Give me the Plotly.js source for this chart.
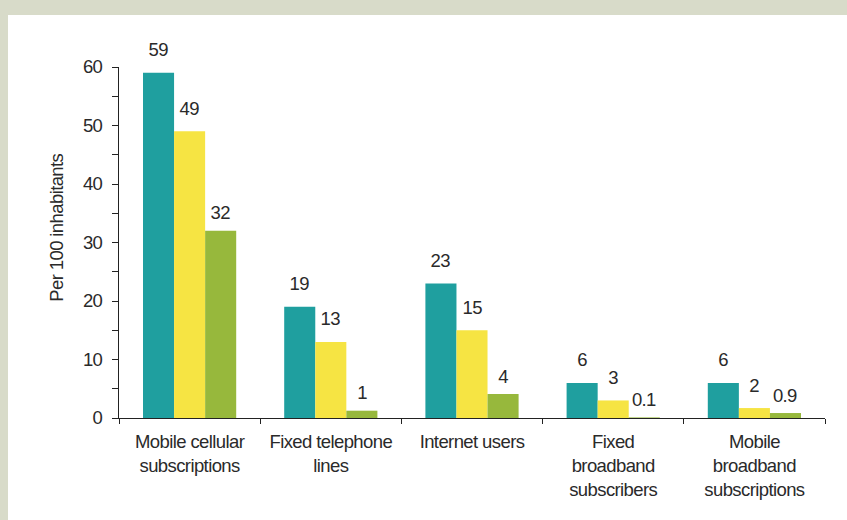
<!DOCTYPE html>
<html>
<head>
<meta charset="utf-8">
<script src="https://cdn.plot.ly/plotly-3.0.1.min.js"></script>
<style>
  html, body { margin: 0; padding: 0; background: #d8dbc9; width: 847px; height: 520px; overflow: hidden; }
  #chart { position: absolute; left: 8px; top: 15px; width: 839px; height: 505px; background: #fff; }
  #chart svg text { letter-spacing: -0.6px; }
</style>
</head>
<body>
<div id="chart"></div>
<script>
// Data
const categories = [
  "Mobile cellular<br>subscriptions",
  "Fixed telephone<br>lines",
  "Internet users",
  "Fixed<br>broadband<br>subscribers",
  "Mobile<br>broadband<br>subscriptions"
];
const seriesA = [59, 19, 23, 6, 6];          // teal
const seriesB = [49, 13, 15, 3, 1.7];        // yellow
const seriesC = [32, 1.25, 4.1, 0.1, 0.85];  // green
const labelsA = ["59", "19", "23", "6", "6"];
const labelsB = ["49", "13", "15", "3", "2"];
const labelsC = ["32", "1", "4", "0.1", "0.9"];
const yTickVals = [0, 5, 10, 15, 20, 25, 30, 35, 40, 45, 50, 55, 60];
const yTickText = ["0", "", "10", "", "20", "", "30", "", "40", "", "50", "", "60"];
const yTitle = "Per 100 inhabitants";

const FONT = "'Liberation Sans', Arial, sans-serif";
const FS = 18.5;
const TXT = "#2a2a2a";
const colors = ["#1f9f9f", "#f6e443", "#97b83c"];
const bargap = 0.34;
const barW = (1 - bargap) / 3;

const series = [seriesA, seriesB, seriesC];
const labels = [labelsA, labelsB, labelsC];

const traces = series.map((vals, j) => ({
  type: "bar",
  x: categories,
  y: vals,
  marker: { color: colors[j], line: { width: 0 } },
  hoverinfo: "none",
  showlegend: false
}));

const annotations = [];
series.forEach((vals, j) => {
  vals.forEach((v, i) => {
    annotations.push({
      x: i + (j - 1) * barW,
      y: v,
      xref: "x", yref: "y",
      text: labels[j][i],
      showarrow: false,
      yanchor: "middle",
      yshift: j === 2 ? 18 : 23,
      font: { family: FONT, size: FS, color: TXT }
    });
  });
});
// y-axis title (placed slightly above the axis centre, as in the reference)
annotations.push({
  xref: "paper", yref: "paper",
  x: 0, y: 0.54,
  xshift: -63,
  xanchor: "center", yanchor: "middle",
  textangle: -90,
  text: yTitle,
  showarrow: false,
  font: { family: FONT, size: FS, color: TXT }
});

const layout = {
  width: 839,
  height: 505,
  margin: { l: 111, r: 22, t: 52, b: 102 },
  paper_bgcolor: "#ffffff",
  plot_bgcolor: "#ffffff",
  barmode: "group",
  bargap: bargap,
  bargroupgap: 0,
  font: { family: FONT, size: FS, color: TXT },
  xaxis: {
    type: "category",
    showgrid: false,
    zeroline: false,
    showline: true,
    linecolor: "#222",
    linewidth: 1,
    ticks: "outside",
    tickson: "boundaries",
    ticklen: 5,
    tickcolor: "#222",
    tickangle: 0,
    tickfont: { family: FONT, size: FS, color: TXT },
    ticklabelstandoff: 7
  },
  yaxis: {
    range: [0, 60],
    showgrid: false,
    zeroline: false,
    showline: true,
    linecolor: "#222",
    linewidth: 1,
    ticks: "outside",
    ticklen: 6,
    tickcolor: "#222",
    tickvals: yTickVals,
    ticktext: yTickText,
    tickfont: { family: FONT, size: FS, color: TXT },
    ticklabelstandoff: 6
  },
  annotations: annotations
};

Plotly.newPlot("chart", traces, layout, { displayModeBar: false, staticPlot: true });
</script>
</body>
</html>
